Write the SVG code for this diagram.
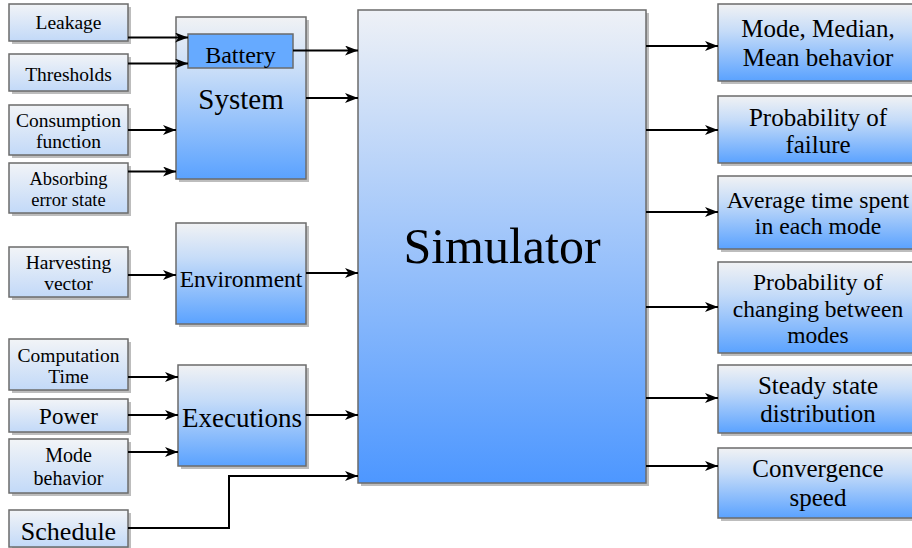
<svg xmlns="http://www.w3.org/2000/svg" width="912" height="548" viewBox="0 0 912 548" font-family="'Liberation Serif', 'Times New Roman', serif">
<defs>
<linearGradient id="gSmall" x1="0" y1="0" x2="0" y2="1">
<stop offset="0" stop-color="#f2f4f7"/>
<stop offset="1" stop-color="#c2d9f8"/>
</linearGradient>
<linearGradient id="gMid" x1="0" y1="0" x2="0" y2="1">
<stop offset="0" stop-color="#f1f2f4"/>
<stop offset="0.35" stop-color="#c6dcf8"/>
<stop offset="1" stop-color="#5aa2ff"/>
</linearGradient>
<linearGradient id="gSim" x1="0" y1="0" x2="0" y2="1">
<stop offset="0" stop-color="#eef1f6"/>
<stop offset="1" stop-color="#4d97ff"/>
</linearGradient>
<marker id="arr" viewBox="0 0 13 10" refX="13" refY="5" markerWidth="13" markerHeight="10" markerUnits="userSpaceOnUse" orient="auto">
<path d="M0,0 L13,5 L0,10 L3.5,5 z" fill="#000"/>
</marker>
</defs>
<style>
.sh{fill:#bdbdbd}
.box{stroke:#6b6b6b;stroke-width:1.5}
.s{fill:url(#gSmall)}
.m{fill:url(#gMid)}
.sim{fill:url(#gSim)}
.bat{fill:#66aaff}
text{font-family:'Liberation Serif','Times New Roman',serif;fill:#000;text-anchor:middle}
.l{font-size:19.5px}
.c{fill:none;stroke:#000;stroke-width:2;marker-end:url(#arr)}
</style>
<rect width="912" height="548" fill="#fff"/>

<g id="leakage"><rect class="sh" x="12" y="7" width="119" height="37"/><rect class="box s" x="9" y="4" width="119" height="37"/><text class="l" x="68.5" y="29">Leakage</text></g>
<g id="thresholds"><rect class="sh" x="12" y="57" width="119" height="37"/><rect class="box s" x="9" y="54" width="119" height="37"/><text class="l" x="68.5" y="81">Thresholds</text></g>
<g id="consumption"><rect class="sh" x="12" y="108" width="119" height="50"/><rect class="box s" x="9" y="105" width="119" height="50"/><text class="l" x="68.5" y="127">Consumption</text><text class="l" x="68.5" y="148">function</text></g>
<g id="absorbing"><rect class="sh" x="12" y="166" width="119" height="50"/><rect class="box s" x="9" y="163" width="119" height="50"/><text x="68.5" y="185" font-size="18.5">Absorbing</text><text x="68.5" y="206" font-size="18.5">error state</text></g>
<g id="harvesting"><rect class="sh" x="12" y="250" width="119" height="50"/><rect class="box s" x="9" y="247" width="119" height="50"/><text class="l" x="68.5" y="269">Harvesting</text><text class="l" x="68.5" y="290">vector</text></g>
<g id="computation"><rect class="sh" x="12" y="342" width="119" height="51"/><rect class="box s" x="9" y="339" width="119" height="51"/><text class="l" x="68.5" y="362">Computation</text><text class="l" x="68.5" y="383">Time</text></g>
<g id="power"><rect class="sh" x="12" y="402" width="119" height="33"/><rect class="box s" x="9" y="399" width="119" height="33"/><text x="68.5" y="424" font-size="23">Power</text></g>
<g id="modebehavior"><rect class="sh" x="12" y="442" width="119" height="54"/><rect class="box s" x="9" y="439" width="119" height="54"/><text x="68.5" y="462" font-size="20">Mode</text><text x="68.5" y="485" font-size="20">behavior</text></g>
<g id="schedule"><rect class="sh" x="12" y="513" width="119" height="37"/><rect class="box s" x="9" y="510" width="119" height="37"/><text x="68.5" y="540" font-size="26">Schedule</text></g>

<g id="system"><rect class="sh" x="179" y="20" width="130" height="162"/><rect class="box m" x="176" y="17" width="130" height="162"/><text x="241" y="109" font-size="29">System</text></g>
<g id="battery"><rect class="box bat" x="188" y="34" width="105" height="34"/><text x="240.5" y="63" font-size="24">Battery</text></g>
<g id="environment"><rect class="sh" x="179" y="226" width="130" height="101"/><rect class="box m" x="176" y="223" width="130" height="101"/><text x="241" y="287" font-size="23.5">Environment</text></g>
<g id="executions"><rect class="sh" x="181" y="368" width="128" height="101"/><rect class="box m" x="178" y="365" width="128" height="101"/><text x="242" y="427" font-size="27">Executions</text></g>

<g id="simulator"><rect class="sh" x="361" y="13" width="288" height="473"/><rect class="box sim" x="358" y="10" width="288" height="473"/><text x="502" y="263" font-size="50">Simulator</text></g>

<g id="out1"><rect class="sh" x="721" y="7" width="198" height="77"/><rect class="box m" x="718" y="4" width="198" height="77"/><text x="818" y="37" font-size="25">Mode, Median,</text><text x="818" y="66" font-size="25">Mean behavior</text></g>
<g id="out2"><rect class="sh" x="721" y="99" width="198" height="67"/><rect class="box m" x="718" y="96" width="198" height="67"/><text x="818" y="126" font-size="25">Probability of</text><text x="818" y="153" font-size="25">failure</text></g>
<g id="out3"><rect class="sh" x="721" y="179" width="198" height="73"/><rect class="box m" x="718" y="176" width="198" height="73"/><text x="818" y="208" font-size="23.7">Average time spent</text><text x="818" y="234" font-size="23.7">in each mode</text></g>
<g id="out4"><rect class="sh" x="721" y="265" width="198" height="91"/><rect class="box m" x="718" y="262" width="198" height="91"/><text x="818" y="290" font-size="23.5">Probability of</text><text x="818" y="317" font-size="23.5">changing between</text><text x="818" y="343" font-size="23.5">modes</text></g>
<g id="out5"><rect class="sh" x="721" y="368" width="198" height="68"/><rect class="box m" x="718" y="365" width="198" height="68"/><text x="818" y="394" font-size="25">Steady state</text><text x="818" y="422" font-size="25">distribution</text></g>
<g id="out6"><rect class="sh" x="721" y="451" width="198" height="70"/><rect class="box m" x="718" y="448" width="198" height="70"/><text x="818" y="477" font-size="25">Convergence</text><text x="818" y="506" font-size="25">speed</text></g>

<g id="connectors">
<path class="c" d="M128,37.5 H188"/>
<path class="c" d="M128,63.5 H188"/>
<path class="c" d="M128,130 H176"/>
<path class="c" d="M128,171.5 H176"/>
<path class="c" d="M293,50.5 H358"/>
<path class="c" d="M306,98 H358"/>
<path class="c" d="M128,275 H176"/>
<path class="c" d="M306,273 H358"/>
<path class="c" d="M128,377 H178"/>
<path class="c" d="M128,415 H178"/>
<path class="c" d="M128,452 H178"/>
<path class="c" d="M306,415 H358"/>
<path class="c" d="M128,528 H229 V476 H358"/>
<path class="c" d="M646,46 H718"/>
<path class="c" d="M646,130 H718"/>
<path class="c" d="M646,212 H718"/>
<path class="c" d="M646,307 H718"/>
<path class="c" d="M646,398 H718"/>
<path class="c" d="M646,466 H718"/>
</g>
</svg>
